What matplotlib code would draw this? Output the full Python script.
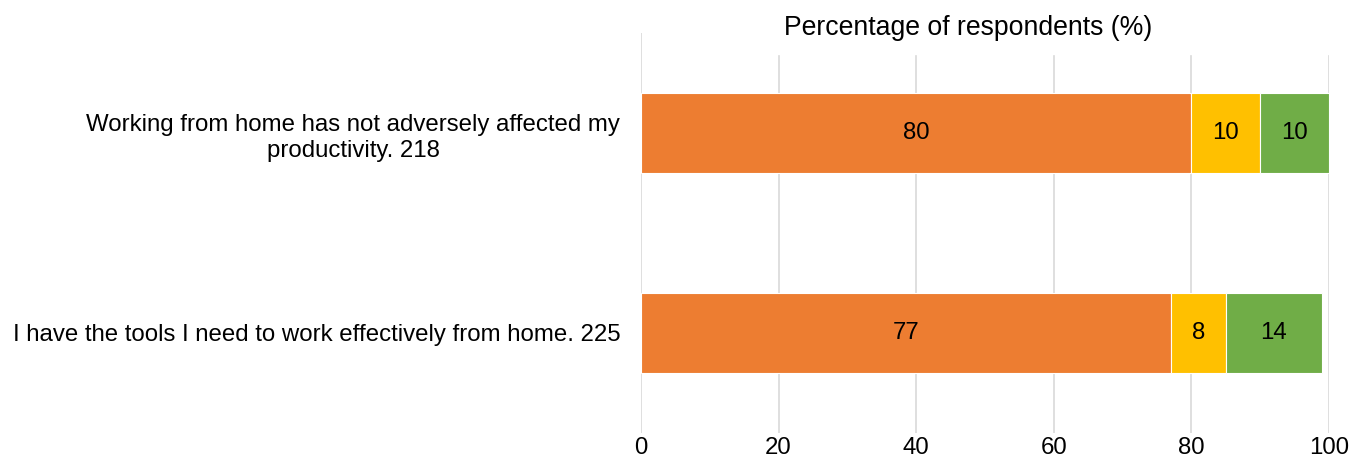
import matplotlib
matplotlib.use("Agg")
import matplotlib.pyplot as plt

plt.rcParams['font.family'] = ['Liberation Sans', 'DejaVu Sans']

categories = ["Working from home has not adversely affected my\nproductivity. 218",
              "I have the tools I need to work effectively from home. 225"]
agree = [80, 77]
neutral = [10, 8]
disagree = [10, 14]
colors = ["#ED7D31", "#FFC000", "#70AD47"]
xticks = [0, 20, 40, 60, 80, 100]

FS = 17.3
fig = plt.figure(figsize=(13.53, 4.72), dpi=100)
ax = fig.add_axes([641/1353, (472-433)/472, (1329-641)/1353, 400/472])

ypos = list(range(len(categories)))
left = [0]*len(categories)
for vals, c in zip([agree, neutral, disagree], colors):
    ax.barh(ypos, vals, left=left, height=0.4, color=c, edgecolor='white', linewidth=0.8, zorder=3)
    for y, v, l in zip(ypos, vals, left):
        ax.text(l + v/2, y, str(v), ha='center', va='center', fontsize=FS, color='black', zorder=4)
    left = [l + v for l, v in zip(left, vals)]

ax.set_xlim(0, 100)
ax.set_ylim(1.5, -0.5)
ax.set_xticks(xticks)
ax.set_xticklabels([str(t) for t in xticks], fontsize=FS)
ax.set_yticks(ypos)
ax.set_yticklabels(categories, fontsize=FS, multialignment='center', linespacing=1.25)
ax.tick_params(axis='both', length=0)
ax.tick_params(axis='x', pad=3)
ax.tick_params(axis='y', pad=15)
for s in ax.spines.values():
    s.set_visible(False)

gtop = (433-56)/400
for t in xticks[1:]:
    ax.axvline(t, ymin=0, ymax=gtop, color='#D9D9D9', linewidth=1.2, zorder=1)
ax.axvline(0, ymin=0, ymax=1, color='#D9D9D9', linewidth=1.2, zorder=1)

ax.text(47.5, (433-28)/400, "Percentage of respondents (%)", transform=ax.get_xaxis_transform(),
        ha='center', va='center', fontsize=19.2, clip_on=False)

fig.savefig("out.png", dpi=100)
